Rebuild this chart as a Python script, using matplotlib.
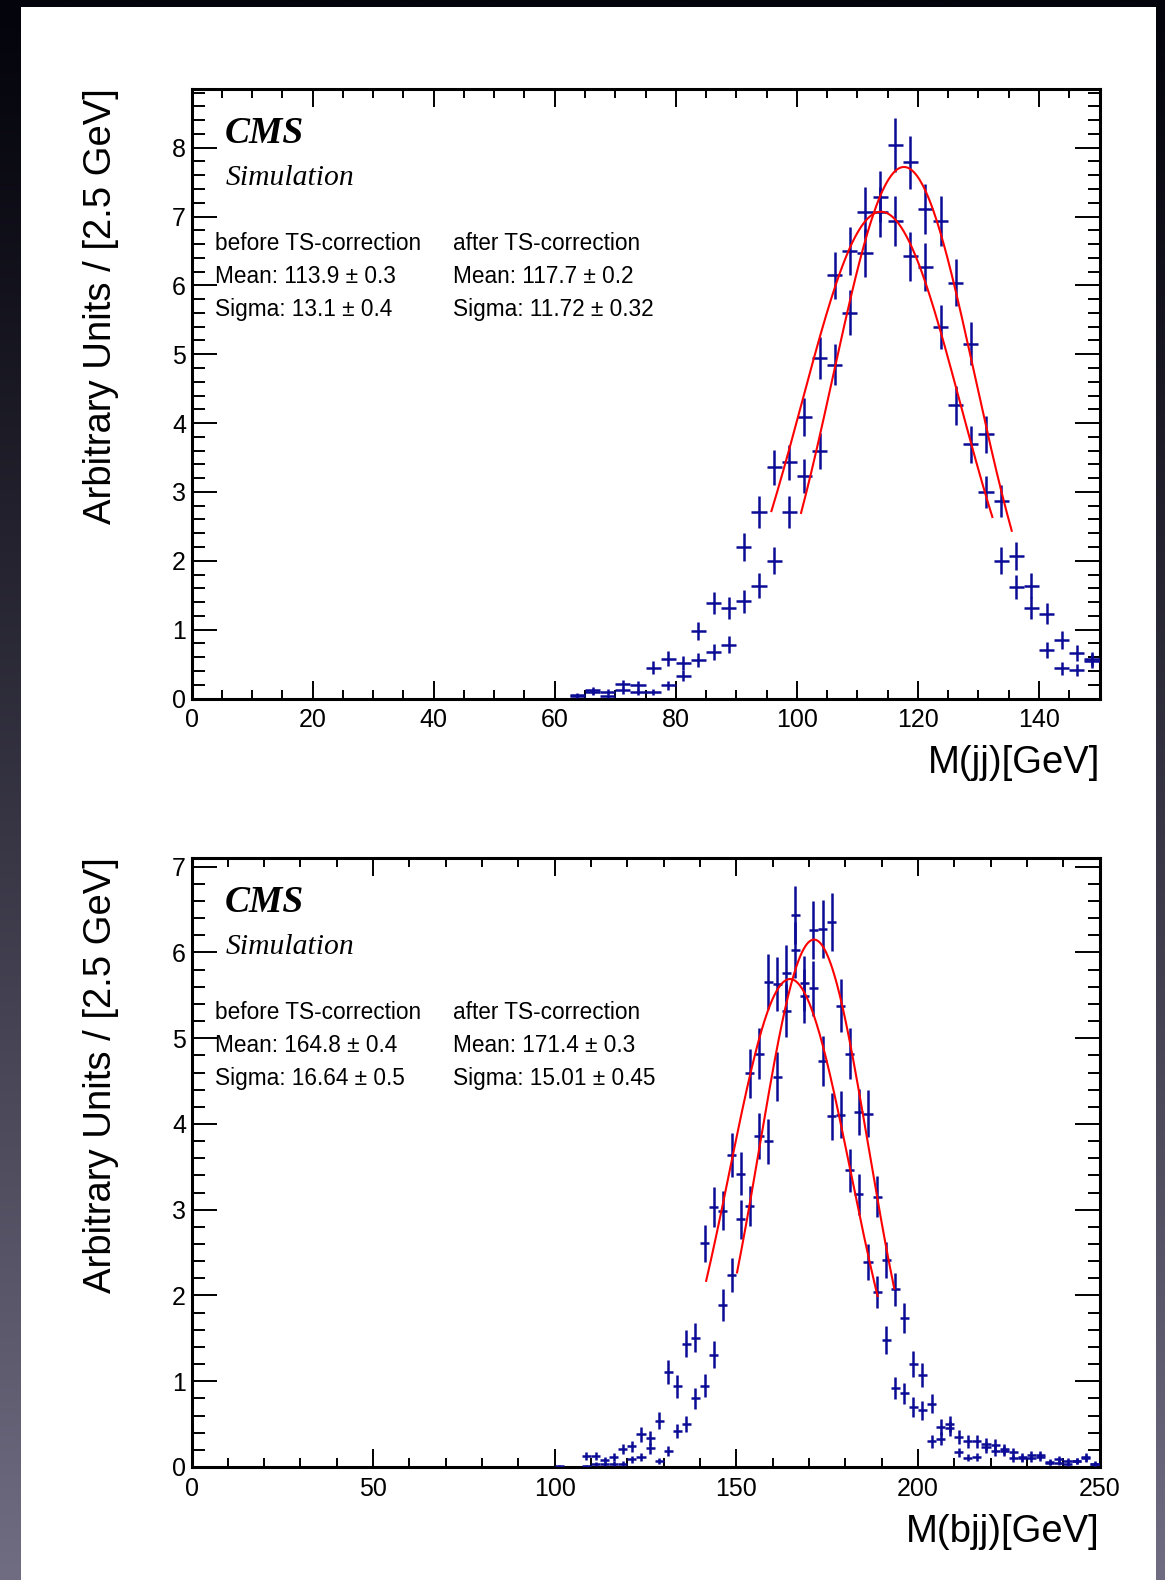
import numpy as np
import matplotlib
matplotlib.use("Agg")
import matplotlib.pyplot as plt
from matplotlib.patches import Rectangle
from matplotlib.ticker import MultipleLocator

W, H, DPI = 1165, 1580, 100

# ---------------- M(jj): 2.5 GeV bins ----------------
mjj_centers = np.arange(63.75, 150.0, 2.5)
mjj_before = [0.05, 0.12, 0.10, 0.21, 0.19, 0.45, 0.58, 0.52, 0.98, 1.39,
              1.31, 2.20, 2.71, 3.36, 3.43, 4.09, 4.95, 6.15, 6.50, 7.06,
              7.07, 6.94, 6.42, 6.27, 5.40, 4.26, 3.69, 3.00, 2.00, 1.62,
              1.31, 0.70, 0.44, 0.41, 0.55]
mjj_after = [0.03, 0.09, 0.03, 0.12, 0.10, 0.10, 0.19, 0.33, 0.56, 0.68,
             0.78, 1.41, 1.64, 2.00, 2.71, 3.23, 3.60, 4.85, 5.60, 6.47,
             7.29, 8.04, 7.79, 7.11, 6.94, 6.04, 5.15, 3.84, 2.87, 2.07,
             1.64, 1.23, 0.85, 0.66, 0.57]
mjj_weight = 0.019          # per-event weight -> statistical errors
# Gaussian fits: amplitude, mean, sigma, fit range
mjj_fit_before = [7.07, 113.9, 13.1, 95.8, 132.3]
mjj_fit_after = [7.72, 117.7, 11.72, 100.7, 135.5]
mjj_stats_before = ["before TS-correction", "Mean: 113.9 \u00b1 0.3", "Sigma: 13.1 \u00b1 0.4"]
mjj_stats_after = ["after TS-correction", "Mean: 117.7 \u00b1 0.2", "Sigma: 11.72 \u00b1 0.32"]

# ---------------- M(bjj): 2.5 GeV bins ----------------
mbjj_centers = np.arange(101.25, 250.0, 2.5)
mbjj_before = [0.01, 0.00, 0.00, 0.13, 0.13, 0.08, 0.12, 0.21, 0.24, 0.38,
               0.34, 0.54, 1.11, 0.94, 1.44, 1.51, 2.61, 3.03, 2.99, 3.64,
               3.42, 4.59, 4.82, 5.66, 5.63, 5.76, 6.03, 5.49, 5.58, 4.73,
               4.09, 4.11, 3.46, 3.18, 2.39, 2.04, 1.48, 0.92, 0.86, 0.70,
               0.66, 0.30, 0.33, 0.45, 0.17, 0.11, 0.12, 0.23, 0.19, 0.19,
               0.10, 0.10, 0.10, 0.12, 0.05, 0.05, 0.03, 0.07, 0.10, 0.03]
mbjj_after = [0.00, 0.00, 0.00, 0.01, 0.03, 0.03, 0.04, 0.04, 0.09, 0.12,
              0.22, 0.07, 0.19, 0.42, 0.50, 0.80, 0.95, 1.31, 1.89, 2.24,
              2.89, 3.04, 3.86, 3.80, 4.55, 5.32, 6.44, 5.64, 6.26, 6.27,
              6.36, 5.38, 4.82, 4.14, 4.12, 3.15, 2.41, 2.07, 1.74, 1.20,
              1.07, 0.74, 0.47, 0.50, 0.35, 0.30, 0.30, 0.27, 0.26, 0.21,
              0.17, 0.12, 0.14, 0.14, 0.06, 0.09, 0.07, 0.07, 0.12, 0.04]
mbjj_weight = 0.018
mbjj_fit_before = [5.69, 164.8, 16.64, 141.7, 188.9]
mbjj_fit_after = [6.15, 171.4, 15.01, 150.2, 193.5]
mbjj_stats_before = ["before TS-correction", "Mean: 164.8 \u00b1 0.4", "Sigma: 16.64 \u00b1 0.5"]
mbjj_stats_after = ["after TS-correction", "Mean: 171.4 \u00b1 0.3", "Sigma: 15.01 \u00b1 0.45"]

NAVY = "#0b0b96"
SANS = "Liberation Sans"
SERIF = "Liberation Serif"

fig = plt.figure(figsize=(W / DPI, H / DPI), dpi=DPI)

# dark gradient backdrop with the white page on top
bg = fig.add_axes([0, 0, 1, 1], zorder=-10)
t = np.linspace(0, 1, 400)[:, None] ** 1.15
top_c = np.array([4, 4, 12]) / 255
bot_c = np.array([112, 108, 130]) / 255
grad = top_c[None, None, :] + (bot_c - top_c)[None, None, :] * t[:, :, None]
grad = np.repeat(grad, 2, axis=1)
bg.imshow(grad, extent=[0, W, H, 0], aspect="auto", interpolation="bilinear")
bg.add_patch(Rectangle((21, 7), 1156 - 21, H - 7, facecolor="white", edgecolor="none"))
bg.set_xlim(0, W)
bg.set_ylim(H, 0)
bg.axis("off")


def px_text(px, py, s, **kw):
    fig.text(px / W, 1 - py / H, s, **kw)


def draw_panel(rect, centers, before, after, weight, fit_b, fit_a,
               stats_b, stats_a, xmax, ymax, xmaj, xmin_step, xlabel, y_top_px, dy):
    ax = fig.add_axes(rect)
    ax.set_facecolor("white")
    for vals in (before, after):
        v = np.asarray(vals, dtype=float)
        m = v > 0
        err = np.sqrt(v[m] * weight)
        ax.errorbar(centers[m], v[m], xerr=1.25, yerr=err, fmt="none",
                    ecolor=NAVY, elinewidth=1.8, capsize=0, zorder=3)
    for amp, mu, sig, lo, hi in (fit_b, fit_a):
        xs = np.linspace(lo, hi, 400)
        ax.plot(xs, amp * np.exp(-0.5 * ((xs - mu) / sig) ** 2),
                color="#ff0000", lw=1.5, zorder=4)
    ax.set_xlim(0, xmax)
    ax.set_ylim(0, ymax)
    ax.xaxis.set_major_locator(MultipleLocator(xmaj))
    ax.xaxis.set_minor_locator(MultipleLocator(xmin_step))
    ax.yaxis.set_major_locator(MultipleLocator(1))
    ax.yaxis.set_minor_locator(MultipleLocator(0.2))
    ax.tick_params(which="both", direction="in", top=True, right=True,
                   width=1.4, color="black")
    ax.tick_params(axis="x", which="major", length=13, pad=7)
    ax.tick_params(axis="x", which="minor", length=6.5)
    ax.tick_params(axis="y", which="major", length=18, pad=4)
    ax.tick_params(axis="y", which="minor", length=9)
    for lab in ax.get_xticklabels() + ax.get_yticklabels():
        lab.set_fontfamily(SANS)
        lab.set_fontsize(18)
    for sp in ax.spines.values():
        sp.set_linewidth(2.2)

    # axis titles
    px_text(100.8, y_top_px, "Arbitrary Units / [2.5 GeV]", rotation=90,
            ha="center", va="top", fontsize=27.5, family=SANS)
    px_text(1100, y_top_px + 674.5, xlabel, ha="right", va="center",
            fontsize=27.5, family=SANS)

    # experiment tag
    px_text(225, 143.3 + dy, "CMS", ha="left", va="baseline", family=SERIF,
            fontsize=27, fontweight="bold", fontstyle="italic")
    px_text(226, 185 + dy, "Simulation", ha="left", va="baseline", family=SERIF,
            fontsize=21.3, fontstyle="italic")

    # fit results
    for i, (sb, sa) in enumerate(zip(stats_b, stats_a)):
        yb = 250 + 33 * i + dy
        px_text(215, yb, sb, ha="left", va="baseline", family=SANS, fontsize=16.3)
        px_text(452.7, yb, sa, ha="left", va="baseline", family=SANS, fontsize=16.3)
    return ax


left = 191.5 / W
width = 908 / W
draw_panel([left, (H - 698.5) / H, width, 610 / H], mjj_centers, mjj_before, mjj_after,
           mjj_weight, mjj_fit_before, mjj_fit_after, mjj_stats_before, mjj_stats_after,
           150, 8.86, 20, 5, "M(jj)[GeV]", 88.5, 0)
draw_panel([left, (H - 1467) / H, width, 609.4 / H], mbjj_centers, mbjj_before, mbjj_after,
           mbjj_weight, mbjj_fit_before, mbjj_fit_after, mbjj_stats_before, mbjj_stats_after,
           250, 7.106, 50, 10, "M(bjj)[GeV]", 857.6, 769)

fig.savefig("out.png", dpi=DPI)
